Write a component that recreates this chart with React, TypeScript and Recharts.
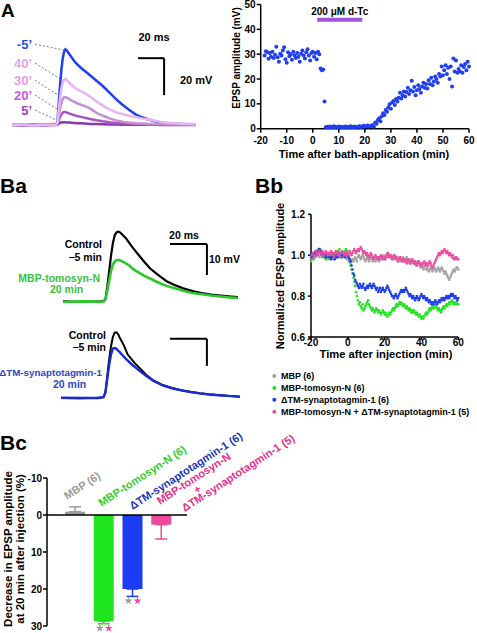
import React from 'react';
import {
  LineChart, Line, ScatterChart, Scatter, BarChart, Bar, ErrorBar,
  XAxis, YAxis, ReferenceLine,
} from 'recharts';

const FONT = "'Liberation Sans', Arial, Helvetica, sans-serif";

// ---------------- Panel A (left): EPSP traces ----------------
const aTraceTime = [0, 8, 16, 24, 30, 34, 35, 36, 37, 38, 39, 40, 41, 42, 44, 46, 48, 50, 53, 56, 60, 65, 70, 75, 80, 85, 90, 95, 100, 105, 110, 115, 120, 125, 130, 135, 141];
const aTraceM5 = [0.2, -0.2, 0.3, -0.1, 0.2, 0.4, 2, 12, 22, 30, 36, 39.5, 41, 40.5, 38.5, 36.5, 34.5, 33, 31, 29.3, 27, 24, 21, 17.5, 14, 11, 8.3, 5.8, 4.2, 3, 2, 1.3, 0.9, 0.6, 0.5, 0.4, 0.4];
const aTrace40 = [0.1, 0.3, -0.2, 0.2, -0.1, 0.2, 1.5, 8, 15, 20, 23, 24.5, 25, 24.5, 23, 21.5, 20.5, 19.5, 18.3, 17.3, 15.5, 12.7, 10.5, 8.5, 7, 6, 5, 4.3, 3.6, 3, 2.3, 1.7, 1.2, 0.9, 0.7, 0.5, 0.5];
const aTrace30 = [0.2, -0.1, 0.2, 0, 0.1, 0.1, 1, 5, 9, 12, 14, 15, 15.1, 14.8, 14, 13.2, 12.5, 11.8, 11, 10.2, 9, 6.6, 5.0, 3.6, 2.5, 1.8, 1.3, 1.0, 0.8, 0.6, 0.5, 0.5, 0.4, 0.4, 0.4, 0.3, 0.3];
const aTrace20 = [0.1, 0.2, -0.1, 0.2, 0, 0.1, 0.5, 2.5, 4.5, 5.8, 6.6, 7, 7, 6.8, 6.3, 5.8, 5.3, 4.9, 4.4, 3.9, 3.3, 2.6, 2, 1.5, 1.1, 0.8, 0.6, 0.4, 0.4, 0.3, 0.3, 0.3, 0.3, 0.2, 0.2, 0.2, 0.2];
const aTrace5 = [0, 0.1, -0.1, 0.1, 0, 0, 0.2, 0.8, 1.2, 1.4, 1.5, 1.5, 1.5, 1.4, 1.3, 1.2, 1.1, 1.0, 0.9, 0.8, 0.6, 0.5, 0.4, 0.3, 0.3, 0.2, 0.2, 0.1, 0.1, 0.1, 0.1, 0, 0, 0, 0, 0, 0];
const aTraceLabels = ['-5’', '40’', '30’', '20’', '5’'];
// connector annotations: [label end (ms, mV), trace point (ms, mV)]
const aConnectors = [
  [[17.7, 43.8], [40.5, 40.5]],
  [[17.7, 33.5], [39.5, 24.0]],
  [[17.7, 24.3], [39.5, 14.3]],
  [[17.7, 16.2], [39.0, 6.6]],
  [[17.7, 8.1], [38.0, 1.4]],
];
const aScaleMs = [97, 117];
const aScaleMv = [36.2, 16.2];

// ---------------- Panel A (right): EPSP amplitude vs time ----------------
const A_START = -18.5;
const A_STEP = 0.5;
const aAmplitude = [
  29.5, 31.2, 30.8, 28.2, 30.5, 29.0, 31.0, 28.5, 29.8, 33.0,
  28.8, 27.0, 30.2, 29.5, 31.5, 32.8, 28.0, 26.5, 30.8, 29.2,
  30.0, 27.8, 31.0, 29.5, 28.5, 30.5, 29.0, 27.0, 30.2, 31.5,
  29.5, 28.3, 30.8, 32.0, 29.5, 27.5, 30.5, 31.0, 29.0, 30.5,
  28.0, 31.0, 30.0,
  24.2, 23.5, 23.8, 11.0,
  0.6, 0.8, 0.5, 0.9, 0.7, 0.6, 1.0, 0.8, 0.5, 0.7,
  0.9, 0.6, 0.8, 0.7, 0.5, 0.9, 0.8, 0.6, 0.7, 1.0,
  0.8, 0.6, 0.9, 0.7, 0.5, 0.8, 1.0, 0.7, 0.9, 1.2,
  0.8, 1.0, 1.3, 0.9, 1.1,
  1.0, 1.5, 0.8, 2.5, 2.0, 3.5, 4.2, 3.0, 5.0, 6.2,
  5.5, 7.5, 6.8, 8.5, 9.8, 8.0, 10.5, 11.2, 9.5, 12.0,
  11.0, 12.5, 14.5, 12.2, 13.5, 15.0, 13.0, 14.8, 16.5, 14.0,
  15.5, 19.3, 15.0, 16.8, 13.5, 15.5, 17.5, 16.0, 14.5, 17.0,
  18.5, 16.5, 18.0, 16.2, 19.5, 18.0, 20.5, 17.5, 19.0, 21.0,
  20.0, 18.5, 22.0, 21.0, 25.0, 21.5, 23.5, 25.5, 22.0, 24.5,
  20.0, 25.0, 17.0, 28.3, 23.0, 27.5, 22.5, 24.0, 23.0, 25.5,
  22.5, 24.8, 26.0, 23.5, 27.0, 25.0,
];
const aXTicks = [-20, -10, 0, 10, 20, 30, 40, 50, 60];
const aYTicks = [0, 10, 20, 30, 40, 50];
const dTcStart = 1.7;
const dTcEnd = 19.0;
const dTcLevel = 43.9;

// ---------------- Panel Ba: traces ----------------
const baTopTime = [0, 10, 20, 22, 23, 24, 25, 26, 27, 28, 29, 30, 31, 32, 34, 36, 38, 41, 44, 47, 50, 53, 56, 60, 65, 70, 75, 80, 85, 90, 94.6];
const baTopControl = [0.1, -0.1, 0.1, 0.2, 1, 5, 10, 15, 19, 21.5, 22.4, 22.6, 22.3, 21.7, 20.5, 18.8, 17.2, 15, 12.8, 10.8, 9.3, 7.9, 6.6, 5.5, 4.3, 3.4, 2.8, 2.3, 2, 1.7, 1.5];
const baTopTomosyn = [-0.1, 0.1, 0, 0.1, 0.8, 3.5, 7, 10, 12, 13, 13.4, 13.5, 13.3, 13, 12.4, 11.6, 10.5, 9.4, 8.3, 7.5, 6.6, 5.8, 5.1, 4.4, 3.5, 2.8, 2.4, 2, 1.7, 1.4, 1.2];
const baTopScaleMs = [57.8, 77.8];
const baTopScaleMv = [18.6, 8.6];

const baBotTime = [0, 10, 20, 23, 24, 25, 26, 27, 28, 29, 30, 31, 32, 34, 36, 38, 40, 43, 46, 50, 55, 60, 65, 70, 75, 80, 85, 90, 96.8];
const baBotControl = [0, 0.1, -0.1, 0.3, 2, 8, 14, 19, 22.5, 24.2, 24.3, 23.5, 22, 19.5, 16.2, 14.5, 12.8, 10.8, 8.6, 6.5, 4.8, 3.7, 2.9, 2.3, 1.8, 1.4, 1.1, 0.8, 0.5];
const baBotSyt = [0.1, -0.1, 0.1, 0.3, 2, 7, 12, 16, 18.3, 18.5, 18.2, 17.5, 16.8, 15.3, 13.9, 12.6, 11.5, 9.8, 8.2, 6.3, 4.7, 3.6, 2.8, 2.2, 1.7, 1.3, 1, 0.8, 0.5];
const baBotScaleMs = [58.9, 78.9];
const baBotScaleMv = [21.9, 11.9];

// ---------------- Panel Bb: normalized EPSP amplitude ----------------
const BB_START = -20;
const BB_STEP = 0.5;
const bbMBP = [
  0.99, 1.00, 0.98, 1.01, 1.00, 0.99, 1.01, 1.02, 1.00, 0.99,
  1.01, 1.00, 0.99, 1.00, 1.01, 0.99, 1.00, 0.98, 1.00, 1.01,
  0.99, 1.00, 1.01, 1.00, 0.99, 0.98, 1.00, 1.01, 0.99, 1.00,
  1.00, 0.99, 1.01, 1.00, 0.99, 1.00, 1.01, 0.99, 1.00, 0.98,
  0.99, 0.97, 0.98, 0.96, 0.97, 0.98, 0.97, 0.98, 0.99, 0.98,
  0.97, 0.99, 1.00, 0.99, 0.98, 0.99, 1.00, 0.99, 0.98, 0.97,
  0.98, 0.99, 0.98, 0.97, 0.98, 0.99, 0.98, 0.97, 0.99, 0.98,
  0.97, 0.98, 0.99, 0.98, 0.97, 0.98, 0.99, 0.98, 0.99, 1.00,
  0.99, 0.98, 1.00, 0.99, 1.01, 1.00, 0.99, 1.00, 0.99, 0.98,
  0.99, 1.00, 0.98, 0.99, 0.97, 0.98, 0.99, 0.98, 0.97, 0.98,
  0.99, 0.98, 0.97, 0.98, 0.99, 0.98, 0.97, 0.96, 0.97, 0.98,
  0.97, 0.96, 0.97, 0.96, 0.95, 0.96, 0.97, 0.96, 0.95, 0.94,
  0.95, 0.94, 0.93, 0.94, 0.95, 0.93, 0.94, 0.93, 0.92, 0.93,
  0.94, 0.93, 0.92, 0.93, 0.94, 0.93, 0.92, 0.93, 0.94, 0.93,
  0.92, 0.93, 0.94, 0.93, 0.92, 0.91, 0.92, 0.91, 0.90, 0.89,
  0.88, 0.89, 0.90, 0.91, 0.92, 0.93, 0.92, 0.93, 0.94, 0.94,
  0.93,
];
const bbTomosyn = [
  0.97, 0.99, 1.00, 0.98, 1.00, 1.01, 1.02, 1.01, 1.03, 1.02,
  1.03, 1.02, 1.01, 1.00, 0.99, 1.00, 0.98, 0.99, 1.00, 0.99,
  0.98, 0.99, 1.00, 0.99, 1.01, 1.00, 0.99, 1.00, 1.02, 1.01,
  1.02, 1.03, 1.01, 1.00, 0.99, 1.00, 1.01, 1.02, 1.03, 1.02,
  1.01, 0.99, 0.97, 0.95, 0.93, 0.91, 0.89, 0.87, 0.85, 0.82,
  0.80, 0.78, 0.76, 0.77, 0.75, 0.74, 0.76, 0.73, 0.74, 0.75,
  0.76, 0.77, 0.78, 0.76, 0.75, 0.74, 0.73, 0.74, 0.73, 0.72,
  0.73, 0.74, 0.73, 0.72, 0.73, 0.72, 0.71, 0.72, 0.73, 0.72,
  0.71, 0.72, 0.71, 0.70, 0.71, 0.72, 0.71, 0.72, 0.73, 0.74,
  0.73, 0.74, 0.75, 0.76, 0.75, 0.76, 0.77, 0.76, 0.77, 0.76,
  0.75, 0.76, 0.75, 0.74, 0.75, 0.74, 0.73, 0.74, 0.73, 0.72,
  0.73, 0.72, 0.73, 0.72, 0.71, 0.72, 0.71, 0.70, 0.71, 0.70,
  0.69, 0.70, 0.69, 0.70, 0.71, 0.72, 0.71, 0.72, 0.73, 0.74,
  0.73, 0.74, 0.75, 0.74, 0.75, 0.76, 0.75, 0.74, 0.73, 0.74,
  0.73, 0.72, 0.73, 0.74, 0.75, 0.74, 0.75, 0.76, 0.75, 0.76,
  0.77, 0.76, 0.77, 0.78, 0.77, 0.76, 0.77, 0.76, 0.77, 0.76,
  0.76,
];
const bbSyt = [
  1.00, 0.99, 1.01, 1.00, 1.01, 1.02, 1.00, 1.01, 1.02, 1.03,
  1.02, 1.01, 1.02, 1.00, 1.01, 1.00, 0.99, 1.00, 1.01, 0.99,
  1.00, 0.99, 0.98, 0.99, 1.00, 0.99, 0.98, 0.99, 1.00, 0.99,
  1.00, 1.01, 1.00, 0.99, 1.00, 1.01, 1.00, 0.99, 1.00, 1.01,
  1.00, 0.99, 0.98, 0.97, 0.95, 0.93, 0.91, 0.90, 0.88, 0.87,
  0.86, 0.85, 0.84, 0.86, 0.85, 0.84, 0.85, 0.86, 0.84, 0.83,
  0.84, 0.85, 0.84, 0.85, 0.86, 0.85, 0.84, 0.85, 0.86, 0.85,
  0.84, 0.83, 0.84, 0.82, 0.83, 0.84, 0.82, 0.83, 0.84, 0.83,
  0.82, 0.83, 0.84, 0.85, 0.84, 0.83, 0.82, 0.81, 0.80, 0.80,
  0.79, 0.80, 0.81, 0.80, 0.79, 0.80, 0.81, 0.82, 0.83, 0.82,
  0.83, 0.82, 0.83, 0.84, 0.83, 0.82, 0.81, 0.80, 0.81, 0.80,
  0.79, 0.80, 0.79, 0.78, 0.79, 0.80, 0.79, 0.78, 0.79, 0.80,
  0.81, 0.80, 0.79, 0.80, 0.79, 0.78, 0.79, 0.78, 0.77, 0.78,
  0.77, 0.76, 0.77, 0.76, 0.77, 0.78, 0.77, 0.76, 0.77, 0.78,
  0.77, 0.78, 0.79, 0.78, 0.79, 0.78, 0.79, 0.80, 0.79, 0.80,
  0.79, 0.80, 0.81, 0.80, 0.81, 0.80, 0.79, 0.80, 0.79, 0.78,
  0.79,
];
const bbCombo = [
  0.98, 1.00, 1.01, 0.99, 1.00, 1.02, 1.01, 1.00, 1.01, 1.02,
  1.01, 1.00, 1.02, 1.01, 1.00, 1.01, 1.02, 1.01, 1.00, 1.01,
  1.00, 1.01, 1.02, 1.01, 1.00, 0.99, 1.01, 1.02, 1.01, 1.00,
  1.01, 1.00, 0.99, 1.01, 1.02, 1.01, 1.00, 1.01, 1.00, 1.01,
  1.01, 1.00, 1.02, 1.01, 1.00, 1.01, 1.02, 1.03, 1.02, 1.01,
  1.02, 1.03, 1.02, 1.03, 1.04, 1.03, 1.02, 1.01, 1.02, 1.01,
  1.00, 1.01, 1.00, 0.99, 1.00, 1.01, 1.00, 0.99, 0.98, 0.99,
  1.00, 0.99, 0.98, 0.99, 0.98, 0.99, 1.00, 0.99, 0.98, 0.99,
  0.98, 0.99, 1.00, 1.01, 1.00, 0.99, 1.00, 0.99, 0.98, 0.99,
  1.00, 0.99, 0.98, 0.99, 0.98, 0.97, 0.98, 0.99, 0.98, 0.97,
  0.98, 0.97, 0.98, 0.97, 0.96, 0.97, 0.98, 0.97, 0.96, 0.97,
  0.98, 0.97, 0.96, 0.97, 0.96, 0.95, 0.96, 0.97, 0.96, 0.95,
  0.96, 0.95, 0.96, 0.97, 0.96, 0.95, 0.96, 0.95, 0.96, 0.97,
  0.96, 0.95, 0.94, 0.95, 0.96, 0.97, 0.98, 0.99, 1.00, 1.01,
  1.00, 1.01, 1.02, 1.01, 1.02, 1.03, 1.02, 1.01, 1.02, 1.01,
  1.00, 1.01, 1.00, 0.99, 1.00, 0.98, 0.99, 0.98, 0.99, 0.98,
  0.98,
];
const bbLabels = ['MBP (6)', 'MBP-tomosyn-N (6)', 'ΔTM-synaptotagmin-1 (6)', 'MBP-tomosyn-N + ΔTM-synaptotagmin-1 (5)'];
const bbXTicks = [-20, 0, 20, 40, 60];
const bbYTicks = [0.6, 0.8, 1.0, 1.2];

// ---------------- Panel Bc: bar chart ----------------
const bcCategories = ['MBP (6)', 'MBP-tomosyn-N (6)', 'ΔTM-synaptotagmin-1 (6)', 'MBP-tomosyn-N + ΔTM-synaptotagmin-1 (5)'];
const bcLabelLines = [['MBP (6)'], ['MBP-tomosyn-N (6)'], ['ΔTM-synaptotagmin-1 (6)'], ['MBP-tomosyn-N', '+', 'ΔTM-synaptotagmin-1 (5)']];
const bcValues = [-0.9, 28.7, 20.0, 2.6];
const bcErrors = [1.3, 0.7, 2.0, 3.9];
const bcStarsVsMBP = [false, true, true, false];
const bcStarsVsCombo = [false, true, true, false];
const bcYTicks = [-10, 0, 10, 20, 30];

// ---------------- styles ----------------
const C_BLUE = '#1f3ff0';
const BB_COLORS = ['#a0a0a0', '#22e022', '#1e3ce8', '#ee4aa0'];
const BC_COLORS = ['#9b9b9b', '#1fe61f', '#1a3cf2', '#f0489c'];
const BC_TEXT = ['#9a9a9a', '#2fce2f', '#1d35b5', '#e6308f'];
const aTraceStyles = [
  { data: aTraceM5, color: '#1f3ff0', label: '#2c4ce6' },
  { data: aTrace40, color: '#e6b5f2', label: '#dba8ea' },
  { data: aTrace30, color: '#c98fd3', label: '#e39ceb' },
  { data: aTrace20, color: '#a855c0', label: '#c35bd5' },
  { data: aTrace5, color: '#8a3aa6', label: '#a23bba' },
];
const aLabelY = [44, 63, 80, 95, 110];
const drawOrder = [0, 4, 3, 2, 1];
const bcLabelLayout = [
  { dx: -8.3, dy: 22, lines: [{ u: 0, v: 0, a: 'start' }] },
  { dx: -2.7, dy: 29, lines: [{ u: 0, v: 0, a: 'start' }] },
  { dx: -0.3, dy: 32, lines: [{ u: 0, v: 0, a: 'start' }] },
  { dx: -1.7, dy: 27, lines: [{ u: 0, v: 0, a: 'start' }, { u: 40, v: 11, a: 'middle' }, { u: 17, v: 19.5, a: 'start' }] },
];

const axisLineStyle = { stroke: '#000', strokeWidth: 1.5 };
const tickStyle = { fill: '#000', fontSize: 10, fontWeight: 700, fontFamily: FONT };

// ---------------- built tables ----------------
const aTraceRows = aTraceTime.map((t, i) => {
  const r: any = { t };
  aTraceStyles.forEach((s, k) => { r[`s${k}`] = s.data[i]; });
  return r;
});
const aPoints = aAmplitude.map((v, i) => ({ x: A_START + i * A_STEP, y: v }));
const baTopRows = baTopTime.map((t, i) => ({ t, c: baTopControl[i], m: baTopTomosyn[i] }));
const baBotRows = baBotTime.map((t, i) => ({ t, c: baBotControl[i], s: baBotSyt[i] }));
const toPts = (vals: number[]) => vals.map((v, i) => ({ x: BB_START + i * BB_STEP, y: v }));
const bbSeries = [bbMBP, bbTomosyn, bbSyt, bbCombo].map(toPts);
const bcRows = bcCategories.map((name, i) => {
  const r: any = { name };
  r[`v${i}`] = bcValues[i];
  r[`e${i}`] = bcValues[i] < 0 ? [bcErrors[i], 0] : [0, bcErrors[i]];
  return r;
});

const dot = (color: string, r: number) => (p: any) => (
  p.cx == null ? <g /> : <circle cx={p.cx} cy={p.cy} r={r} fill={color} />
);

const starPath = (cx: number, cy: number, R: number, r: number) => {
  let d = '';
  for (let k = 0; k < 10; k++) {
    const ang = -Math.PI / 2 + (k * Math.PI) / 5;
    const rad = k % 2 === 0 ? R : r;
    d += (k ? 'L' : 'M') + (cx + rad * Math.cos(ang)).toFixed(2) + ',' + (cy + rad * Math.sin(ang)).toFixed(2);
  }
  return d + 'Z';
};

const bcShape = (i: number) => (props: any) => {
  const { x, y, width, height, payload } = props;
  if (!payload || payload[`v${i}`] == null || x == null) return <g />;
  const val = payload[`v${i}`];
  const top = Math.min(y, y + height);
  const h = Math.abs(height);
  const ppu = Math.abs(val) > 0 ? h / Math.abs(val) : 0;
  const cx = x + width / 2;
  const stars: any[] = [];
  if (bcStarsVsMBP[i] || bcStarsVsCombo[i]) {
    const end = val >= 0 ? top + h : top;
    const sy = end + bcErrors[i] * ppu + 4.5;
    if (bcStarsVsMBP[i]) stars.push(<path key="a" d={starPath(cx - 4, sy, 4.2, 1.6)} fill={BC_COLORS[0]} />);
    if (bcStarsVsCombo[i]) stars.push(<path key="b" d={starPath(cx + 5, sy, 4.2, 1.6)} fill={BC_COLORS[3]} />);
  }
  return (
    <g>
      <rect x={x} y={top} width={width} height={h} fill={BC_COLORS[i]} />
      {stars}
    </g>
  );
};

const BcTick = (props: any) => {
  const { x, y, payload } = props;
  const i = payload?.index ?? props.index ?? 0;
  const lay = bcLabelLayout[i];
  const lines = bcLabelLines[i];
  return (
    <g transform={`translate(${x + lay.dx},${y + lay.dy}) rotate(-33)`}>
      {lines.map((txt, k) => (
        <text key={k} x={lay.lines[k].u} y={lay.lines[k].v} fontSize={11} fontWeight={700}
          fill={BC_TEXT[i]} textAnchor={lay.lines[k].a as any} fontFamily={FONT}>{txt}</text>
      ))}
    </g>
  );
};

const Txt = ({ x, y, s = 11, a = 'start', c = '#000', r, children }: any) => (
  <text x={x} y={y} fontSize={s} fontWeight={700} fill={c} textAnchor={a}
    dominantBaseline="central" transform={r ? `rotate(${r} ${x} ${y})` : undefined}>{children}</text>
);

const Box = ({ left, top, children }: any) => (
  <div style={{ position: 'absolute', left, top }}>{children}</div>
);

export default function App() {
  return (
    <div style={{ position: 'absolute', left: 0, top: 0, width: 477, height: 633, background: '#fff', overflow: 'hidden', fontFamily: FONT }}>
      {/* Panel A traces */}
      <Box left={0} top={0}>
        <LineChart width={200} height={160} data={aTraceRows} margin={{ top: 5, right: 4.7, bottom: 25.75, left: 12 }}>
          <XAxis type="number" dataKey="t" domain={[0, 141]} hide />
          <YAxis type="number" domain={[-5, 65]} hide />
          {aConnectors.map((seg, k) => (
            <ReferenceLine key={`c${k}`} segment={[{ x: seg[0][0], y: seg[0][1] }, { x: seg[1][0], y: seg[1][1] }]}
              stroke="#555" strokeWidth={0.8} strokeDasharray="2 2" />
          ))}
          {drawOrder.map((k) => (
            <Line key={k} dataKey={`s${k}`} stroke={aTraceStyles[k].color} strokeWidth={2.5} dot={false} isAnimationActive={false} />
          ))}
          <ReferenceLine segment={[{ x: aScaleMs[0], y: aScaleMv[0] }, { x: aScaleMs[1], y: aScaleMv[0] }]} stroke="#000" strokeWidth={2} />
          <ReferenceLine segment={[{ x: aScaleMs[1], y: aScaleMv[0] }, { x: aScaleMs[1], y: aScaleMv[1] }]} stroke="#000" strokeWidth={2} />
        </LineChart>
      </Box>

      {/* Panel A scatter */}
      <Box left={200} top={0}>
        <ScatterChart width={277} height={170} margin={{ top: 4.5, right: 8, bottom: 11.3, left: 20.7 }}>
          <XAxis type="number" dataKey="x" domain={[-20, 60]} ticks={aXTicks} interval={0} height={30}
            tickSize={4} tickMargin={4} axisLine={axisLineStyle} tickLine={axisLineStyle} tick={tickStyle} />
          <YAxis type="number" dataKey="y" domain={[0, 50]} ticks={aYTicks} interval={0} width={40}
            tickSize={4} tickMargin={1} axisLine={axisLineStyle} tickLine={axisLineStyle} tick={tickStyle} />
          <ReferenceLine segment={[{ x: dTcStart, y: dTcLevel }, { x: dTcEnd, y: dTcLevel }]} stroke="#a352dc" strokeWidth={4}
            label={{ value: '200 μM d-Tc', position: 'top', offset: 5, fill: '#000', fontSize: 10, fontWeight: 700 }} />
          <Scatter data={aPoints} fill={C_BLUE} shape={dot(C_BLUE, 2)} isAnimationActive={false} />
        </ScatterChart>
      </Box>

      {/* Panel Ba top */}
      <Box left={0} top={200}>
        <LineChart width={240} height={110} data={baTopRows} margin={{ top: 21.1, right: 2, bottom: 2.1, left: 63 }}>
          <XAxis type="number" dataKey="t" domain={[0, 94.6]} hide />
          <YAxis type="number" domain={[-2, 26]} hide />
          <Line dataKey="c" stroke="#000" strokeWidth={2.2} dot={false} isAnimationActive={false} />
          <Line dataKey="m" stroke="#2bc82b" strokeWidth={2.6} dot={false} isAnimationActive={false} />
          <ReferenceLine segment={[{ x: baTopScaleMs[0], y: baTopScaleMv[0] }, { x: baTopScaleMs[1], y: baTopScaleMv[0] }]} stroke="#000" strokeWidth={2} />
          <ReferenceLine segment={[{ x: baTopScaleMs[1], y: baTopScaleMv[0] }, { x: baTopScaleMs[1], y: baTopScaleMv[1] }]} stroke="#000" strokeWidth={2} />
        </LineChart>
      </Box>

      {/* Panel Ba bottom */}
      <Box left={0} top={310}>
        <LineChart width={240} height={100} data={baBotRows} margin={{ top: 12.4, right: 0, bottom: 6.6, left: 61 }}>
          <XAxis type="number" dataKey="t" domain={[0, 96.8]} hide />
          <YAxis type="number" domain={[-2, 28]} hide />
          <Line dataKey="c" stroke="#000" strokeWidth={2} dot={false} isAnimationActive={false} />
          <Line dataKey="s" stroke="#1a2ad8" strokeWidth={2.4} dot={false} isAnimationActive={false} />
          <ReferenceLine segment={[{ x: baBotScaleMs[0], y: baBotScaleMv[0] }, { x: baBotScaleMs[1], y: baBotScaleMv[0] }]} stroke="#000" strokeWidth={2} />
          <ReferenceLine segment={[{ x: baBotScaleMs[1], y: baBotScaleMv[0] }, { x: baBotScaleMs[1], y: baBotScaleMv[1] }]} stroke="#000" strokeWidth={2} />
        </LineChart>
      </Box>

      {/* Panel Bb */}
      <Box left={240} top={200}>
        <ScatterChart width={237} height={160} margin={{ top: 14.3, right: 18.7, bottom: 7, left: 35 }}>
          <XAxis type="number" dataKey="x" domain={[-20, 60]} ticks={bbXTicks} interval={0} height={16}
            tickSize={3} tickMargin={-1} axisLine={axisLineStyle} tickLine={axisLineStyle} tick={tickStyle} />
          <YAxis type="number" dataKey="y" domain={[0.6, 1.2]} ticks={bbYTicks} interval={0} width={36}
            tickSize={3} tickMargin={3} axisLine={axisLineStyle} tickLine={axisLineStyle} tick={tickStyle}
            tickFormatter={(v: number) => v.toFixed(1)} />
          {bbSeries.map((pts, k) => (
            <Scatter key={k} data={pts} fill={BB_COLORS[k]} shape={dot(BB_COLORS[k], 1.3)} isAnimationActive={false} />
          ))}
        </ScatterChart>
      </Box>

      {/* Panel Bc */}
      <Box left={0} top={420}>
        <BarChart width={320} height={213} data={bcRows} margin={{ top: 57, right: 133, bottom: 7, left: 0 }}>
          <XAxis dataKey="name" orientation="top" height={1} axisLine={false} tickLine={false} tickSize={0} tickMargin={0}
            interval={0} padding={{ left: 14, right: 11 }} tick={<BcTick />} />
          <YAxis type="number" domain={[-10, 30]} reversed ticks={bcYTicks} interval={0} width={47}
            tickSize={4} tickMargin={1} axisLine={axisLineStyle} tickLine={axisLineStyle} tick={tickStyle} />
          {bcCategories.map((_, i) => (
            <Bar key={i} dataKey={`v${i}`} stackId="s" barSize={20} fill={BC_COLORS[i]} shape={bcShape(i)} isAnimationActive={false}>
              <ErrorBar dataKey={`e${i}`} direction="y" width={6} strokeWidth={1.5} stroke={BC_COLORS[i]} />
            </Bar>
          ))}
          <ReferenceLine y={0} stroke="#000" strokeWidth={1.5} />
        </BarChart>
      </Box>

      {/* annotation text */}
      <svg width={477} height={633} style={{ position: 'absolute', left: 0, top: 0, pointerEvents: 'none' }} fontFamily={FONT}>
        <Txt x={1} y={10} s={19}>A</Txt>
        <Txt x={0} y={185.5} s={21}>Ba</Txt>
        <Txt x={255} y={185.5} s={21}>Bb</Txt>
        <Txt x={0} y={442.5} s={21}>Bc</Txt>

        {aTraceLabels.map((l, k) => (
          <Txt key={k} x={32} y={aLabelY[k]} s={13} a="end" c={aTraceStyles[k].label}>{l}</Txt>
        ))}
        <Txt x={154} y={37} s={11} a="middle">20 ms</Txt>
        <Txt x={180} y={80} s={11}>20 mV</Txt>
        <Txt x={364} y={154.3} s={11} a="middle">Time after bath-application (min)</Txt>
        <Txt x={236} y={58} s={10} a="middle" r={-90}>EPSP amplitude (mV)</Txt>

        <Txt x={102} y={244} s={10.5} a="end">Control</Txt>
        <Txt x={102} y={257} s={10.5} a="end">−5 min</Txt>
        <Txt x={100} y={278} s={10.5} a="end" c="#3cbf3c">MBP-tomosyn-N</Txt>
        <Txt x={50} y={289} s={10.5} c="#3cbf3c">20 min</Txt>
        <Txt x={184} y={235} s={10.5} a="middle">20 ms</Txt>
        <Txt x={209} y={259} s={10.5}>10 mV</Txt>

        <Txt x={106} y={335} s={10.5} a="end">Control</Txt>
        <Txt x={106} y={347} s={10.5} a="end">−5 min</Txt>
        <Txt x={102} y={372} s={9.8} a="end" c="#2a48c0">ΔTM-synaptotagmin-1</Txt>
        <Txt x={53} y={384} s={10.5} c="#2a48c0">20 min</Txt>

        <Txt x={280} y={276} s={11} a="middle" r={-90}>Normalized EPSP amplitude</Txt>
        <Txt x={386} y={354} s={11.2} a="middle">Time after injection (min)</Txt>
        {bbLabels.map((l, k) => (
          <g key={k}>
            <circle cx={274.3} cy={376 + k * 11.9} r={2} fill={BB_COLORS[k]} />
            <Txt x={281} y={376 + k * 11.9} s={9}>{l}</Txt>
          </g>
        ))}

        <Txt x={7.5} y={549} s={11.5} a="middle" r={-90}>Decrease in EPSP amplitude</Txt>
        <Txt x={20} y={549} s={11.5} a="middle" r={-90}>at 20 min after injection (%)</Txt>
      </svg>
    </div>
  );
}
